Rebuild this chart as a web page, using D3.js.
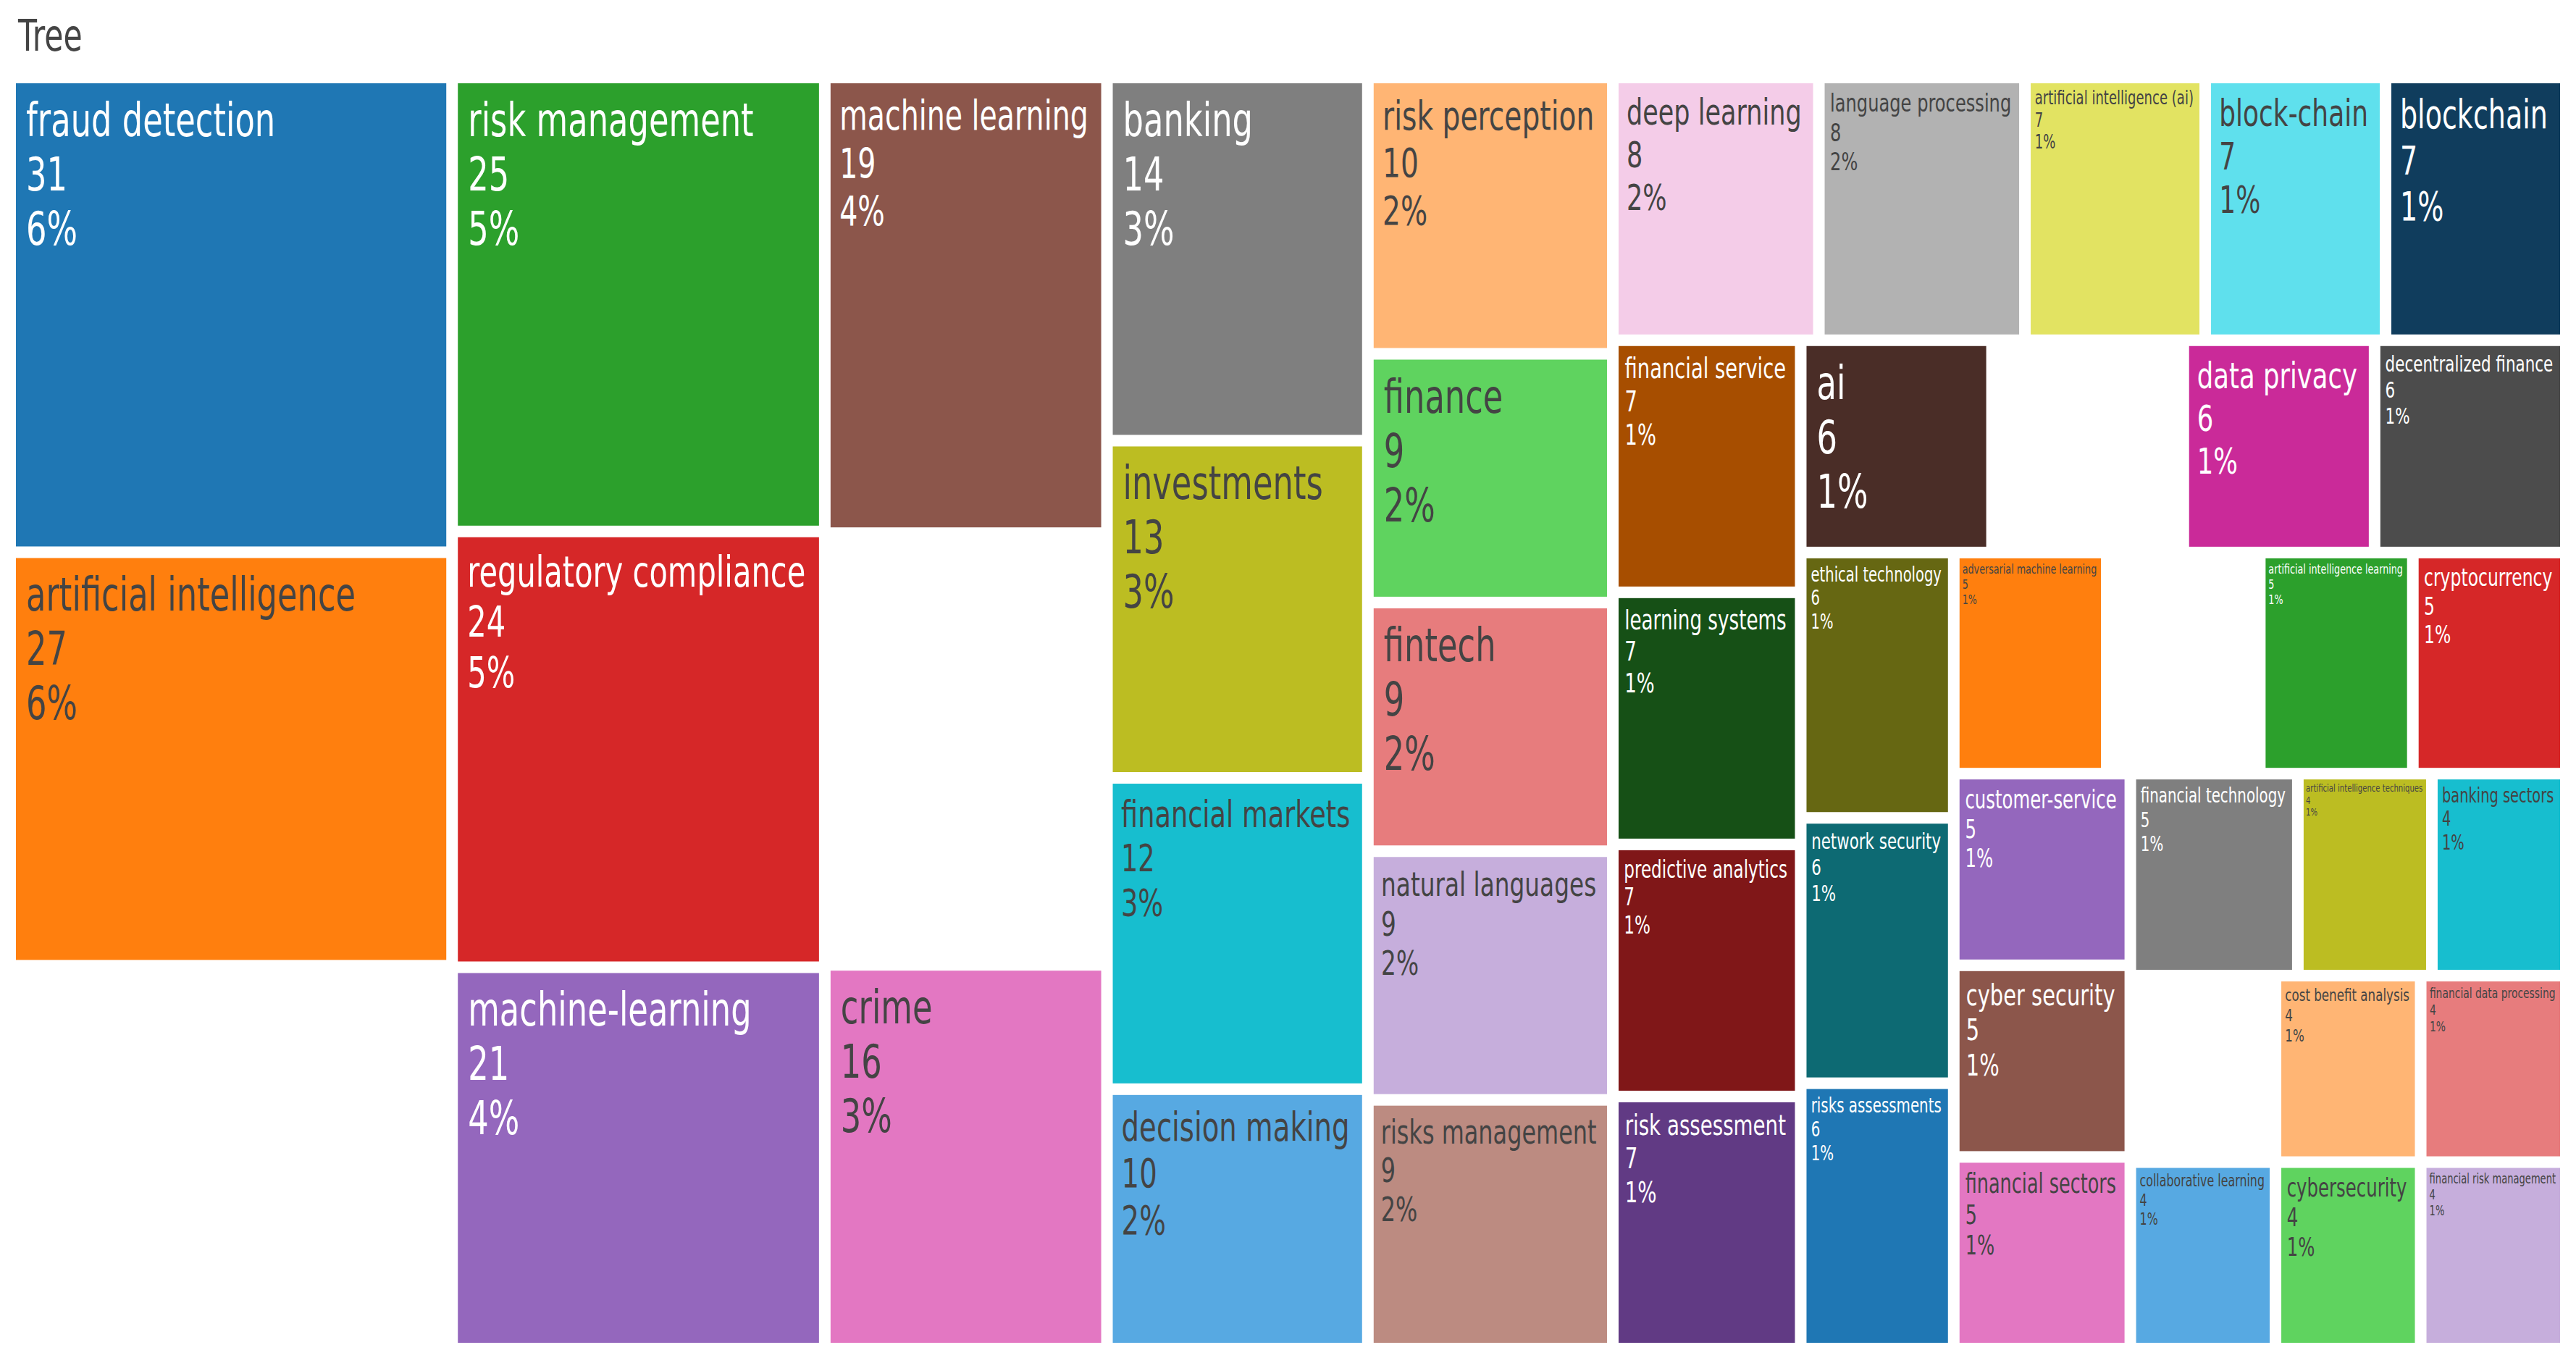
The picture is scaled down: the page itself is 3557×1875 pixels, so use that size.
<!DOCTYPE html>
<html>
<head>
<meta charset="utf-8">
<script src="https://cdn.jsdelivr.net/npm/d3@7"></script>
<style>
  html, body { margin: 0; padding: 0; background: #ffffff; }
  svg { display: block; }
</style>
</head>
<body>
<svg id="chart" width="3557" height="1875"></svg>
<script>
// ---------------- DATA ----------------
const chartTitle = "Tree";

// keyword labels in plotting order (null = unlabeled blank area in the picture)
const labels = [
  "fraud detection", "artificial intelligence", null,
  "risk management", "regulatory compliance", "machine-learning",
  "machine learning", null, "crime",
  "banking", "investments", "financial markets", "decision making",
  "risk perception", "finance", "fintech", "natural languages", "risks management",
  "deep learning", "language processing", "artificial intelligence (ai)", "block-chain", "blockchain",
  "financial service", "learning systems", "predictive analytics", "risk assessment",
  "ai", null, "data privacy", "decentralized finance",
  "ethical technology", "network security", "risks assessments",
  "adversarial machine learning", null, "artificial intelligence learning", "cryptocurrency",
  "customer-service", "cyber security", "financial sectors",
  "financial technology", "artificial intelligence techniques", "banking sectors",
  null, "collaborative learning",
  "cost benefit analysis", "cybersecurity",
  "financial data processing", "financial risk management"
];

// occurrences
const values = [
  31, 27, 25,
  25, 24, 21,
  19, 18, 16,
  14, 13, 12, 10,
  10, 9, 9, 9, 9,
  8, 8, 7, 7, 7,
  7, 7, 7, 7,
  6, 6, 6, 6,
  6, 6, 6,
  5, 5, 5, 5,
  5, 5, 5,
  5, 4, 4,
  4, 4,
  4, 4,
  4, 4
];

// base colour cycle (extended with lighter and darker variants)
const colorway = ["#1f77b4", "#ff7f0e", "#2ca02c", "#d62728", "#9467bd",
                  "#8c564b", "#e377c2", "#7f7f7f", "#bcbd22", "#17becf"];

// tiling structure: number of consecutive items per block
const columnBlocks = [3, 3, 3, 4, 5];          // left columns
const spiralBlocks = [5, 4, 4, 3, 4, 3, 3];    // alternating rows / columns on the right
const tailBlocks   = [2, 2, 2];                // last small columns

// ---------------- LAYOUT ----------------
const W = 3557, H = 1875;
const margin = { left: 22, top: 115, right: 22, bottom: 21 };
const iw = W - margin.left - margin.right;
const ih = H - margin.top - margin.bottom;
const GAP = 16;
const FONT = "DejaVu Sans";
const FS = 64;         // base font size
const SX = 0.70;       // horizontal condensing of the glyphs
const LINE = 75;       // line spacing
const FIRST = 73;      // first baseline from cell top
const INSET = 14;

function lighten(c, a) { const h = d3.hsl(c); h.l = Math.min(1, h.l + a); return h.formatHex(); }
function darken(c, a)  { const h = d3.hsl(c); h.l = Math.max(0, h.l - a); return h.formatHex(); }
const extColors = colorway
  .concat(colorway.map(c => lighten(c, 0.2)))
  .concat(colorway.map(c => darken(c, 0.2)));

function contrast(c) {
  const r = d3.rgb(c);
  const b = (r.r * 299 + r.g * 587 + r.b * 114) / 1000;
  return b < 128 ? "#ffffff" : "#444444";
}

const total = d3.sum(values);
let ci = 0;
const items = labels.map((l, i) => {
  const it = { label: l, value: values[i] };
  if (l) { it.color = extColors[ci % extColors.length]; ci++; }
  return it;
});

let idx = 0;
function take(n) { const arr = items.slice(idx, idx + n); idx += n; return { children: arr }; }
const rootData = { children: [] };
columnBlocks.forEach(n => rootData.children.push(take(n)));
function spiral(i) {
  if (i >= spiralBlocks.length) return { children: tailBlocks.map(n => take(n)) };
  const blk = take(spiralBlocks[i]);
  return { children: [blk, spiral(i + 1)] };
}
rootData.children.push(spiral(0));

const root = d3.hierarchy(rootData).sum(d => d.children ? 0 : d.value);
d3.treemap()
  .tile(d3.treemapSliceDice)
  .size([iw, ih])
  .paddingInner(GAP)
  .round(false)(root);

const svg = d3.select("#chart");

// title
svg.append("text")
  .attr("transform", "translate(25,70) scale(0.71,1)")
  .attr("font-family", FONT)
  .attr("font-size", 60)
  .attr("fill", "#444444")
  .text(chartTitle);

const g = svg.append("g").attr("transform", `translate(${margin.left},${margin.top})`);
const leaves = root.leaves();

const cell = g.selectAll("g.cell")
  .data(leaves)
  .join("g")
  .attr("class", "cell")
  .attr("transform", d => `translate(${d.x0},${d.y0})`);

cell.append("rect")
  .attr("width", d => Math.max(0, d.x1 - d.x0))
  .attr("height", d => Math.max(0, d.y1 - d.y0))
  .attr("fill", d => d.data.label ? d.data.color : "#ffffff");

cell.filter(d => d.data.label).each(function (d) {
  const tg = d3.select(this).append("g")
    .attr("font-family", FONT)
    .attr("font-size", FS)
    .attr("fill", contrast(d.data.color));
  const lines = [d.data.label, String(d.data.value), Math.round(100 * d.data.value / total) + "%"];
  const texts = lines.map((t, i) => tg.append("text").attr("x", 0).attr("y", FIRST + LINE * i).text(t));
  const maxW = d3.max(texts, t => t.node().getComputedTextLength()) * SX;
  const cw = d.x1 - d.x0, ch = d.y1 - d.y0;
  const k = Math.min(1, cw / (maxW + 2 * INSET + 6), ch / (FIRST + 2 * LINE + 30));
  tg.attr("transform", `translate(${INSET * k},0) scale(${SX * k},${k})`);
});
</script>
</body>
</html>
